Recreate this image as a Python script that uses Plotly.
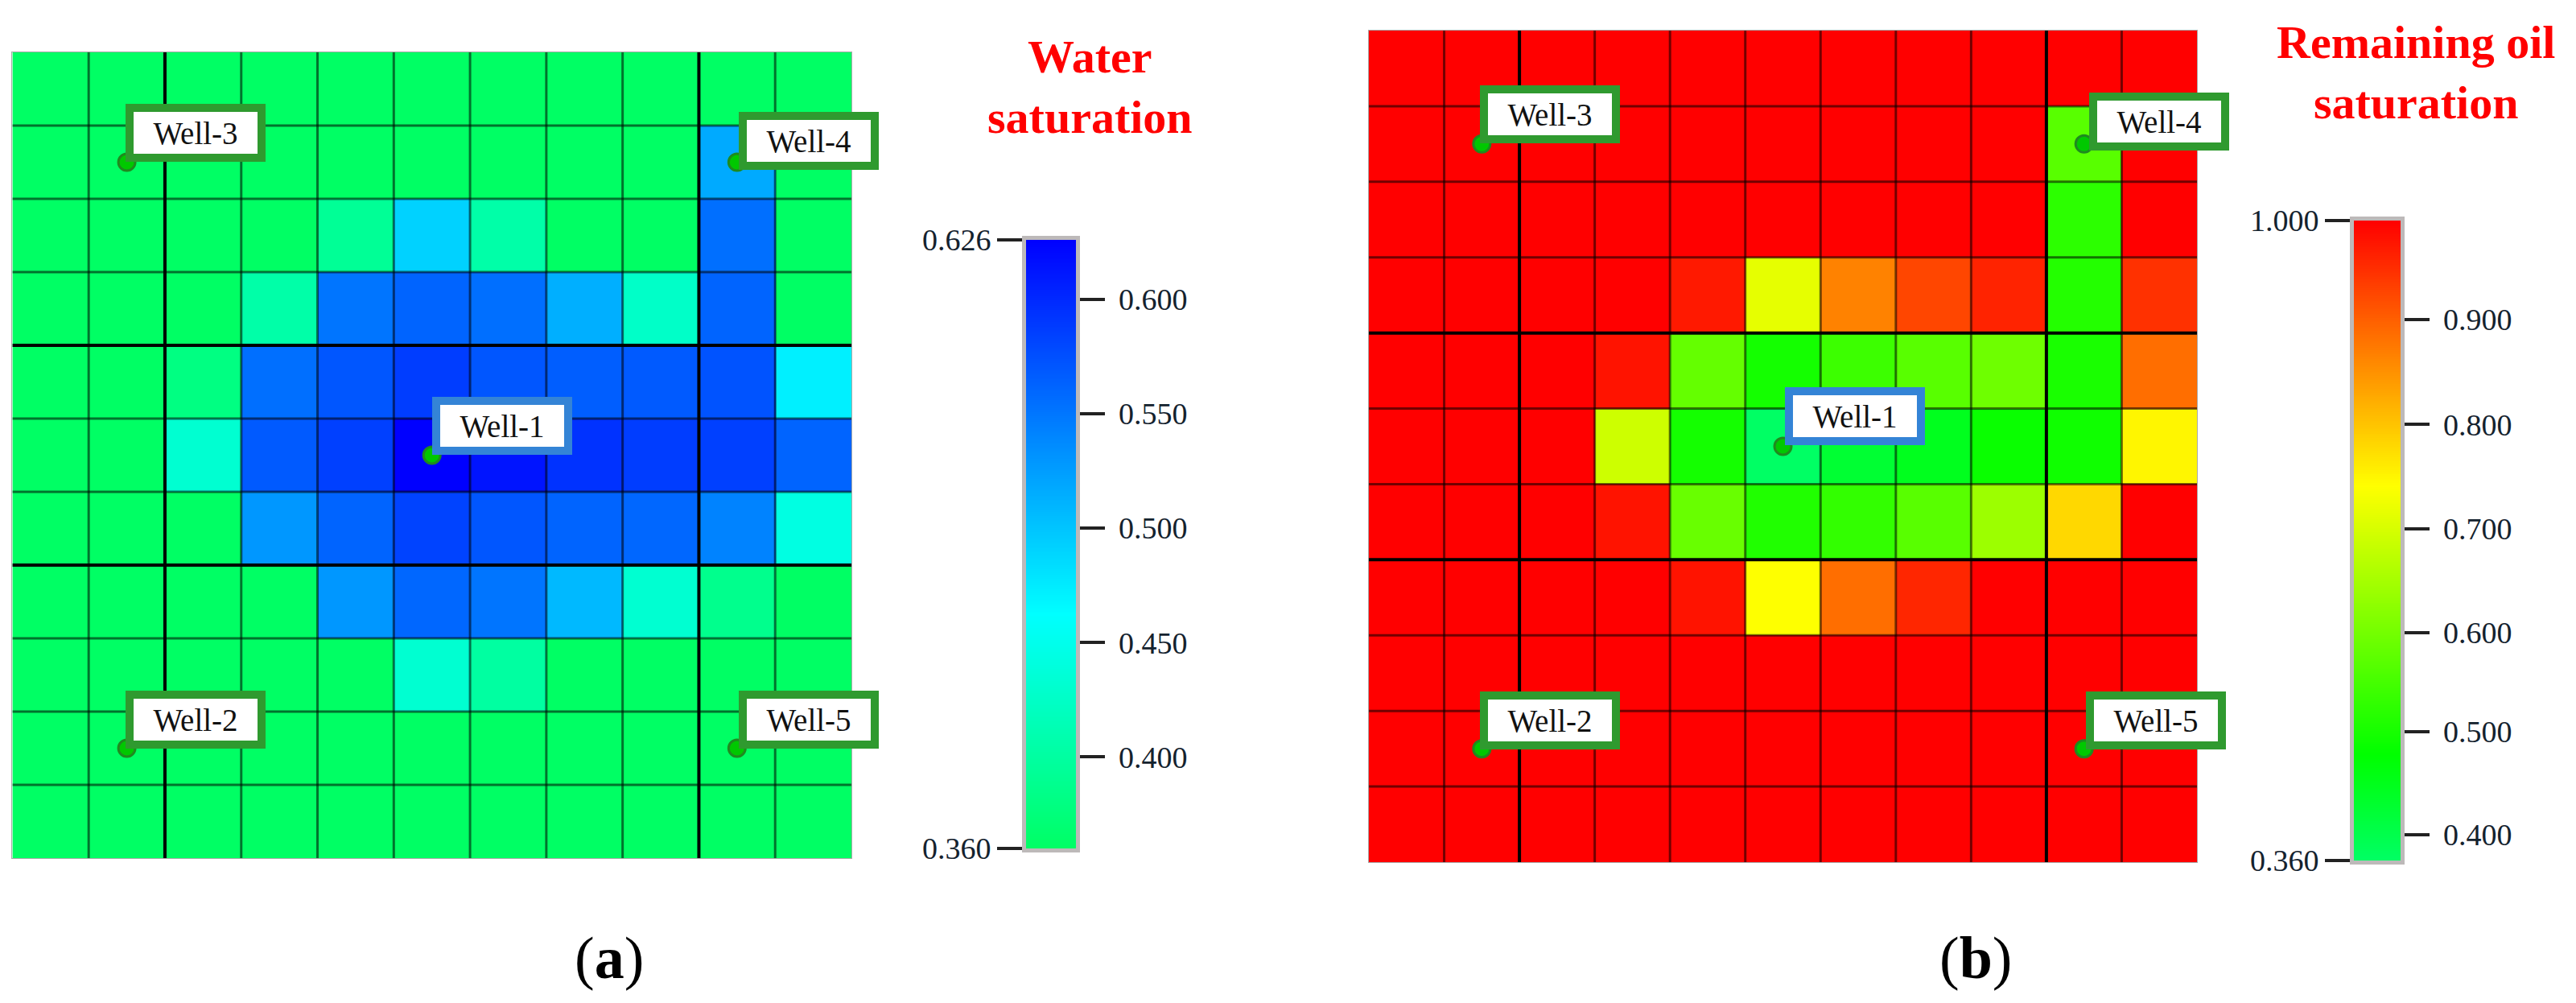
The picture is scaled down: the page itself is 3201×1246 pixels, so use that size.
import numpy as np
import plotly.graph_objects as go

W, H = 3201, 1246
PAGE_PAD = 8  # body margin of the html page

# saturation grids, top row first
water_sat = [
    [.36, .36, .36, .36, .36, .36, .36, .36, .36, .36, .36],
    [.36, .36, .36, .36, .36, .36, .36, .36, .36, .517, .36],
    [.36, .36, .36, .36, .393, .491, .405, .36, .36, .555, .36],
    [.36, .36, .36, .405, .551, .562, .555, .514, .426, .562, .36],
    [.36, .36, .38, .555, .571, .587, .571, .566, .568, .573, .472],
    [.36, .36, .432, .568, .585, .626, .613, .594, .587, .585, .562],
    [.36, .36, .36, .529, .562, .583, .571, .562, .56, .542, .443],
    [.36, .36, .36, .36, .529, .56, .551, .507, .432, .387, .36],
    [.36, .36, .36, .36, .36, .432, .40, .36, .36, .36, .36],
    [.36, .36, .36, .36, .36, .36, .36, .36, .36, .36, .36],
    [.36, .36, .36, .36, .36, .36, .36, .36, .36, .36, .36],
]
oil_sat = [
    [1, 1, 1, 1, 1, 1, 1, 1, 1, 1, 1],
    [1, 1, 1, 1, 1, 1, 1, 1, 1, .57, 1],
    [1, 1, 1, 1, 1, 1, 1, 1, 1, .523, 1],
    [1, 1, 1, 1, .974, .715, .865, .926, .963, .514, .948],
    [1, 1, 1, .98, .583, .498, .54, .57, .593, .503, .885],
    [1, 1, 1, .69, .498, .36, .425, .447, .487, .493, .75],
    [1, 1, 1, .98, .587, .51, .53, .57, .64, .78, 1],
    [1, 1, 1, 1, .98, .74, .885, .96, 1, 1, 1],
    [1, 1, 1, 1, 1, 1, 1, 1, 1, 1, 1],
    [1, 1, 1, 1, 1, 1, 1, 1, 1, 1, 1],
    [1, 1, 1, 1, 1, 1, 1, 1, 1, 1, 1],
]

water_ticks = [0.4, 0.45, 0.5, 0.55, 0.6]
water_ends = [0.36, 0.626]
oil_ticks = [0.4, 0.5, 0.6, 0.7, 0.8, 0.9]
oil_ends = [0.36, 1.0]
# the oil bar in the source is not quite linear, this is where its labels sit
oil_label_vals = [0.36, 0.4, 0.5, 0.6, 0.7, 0.8, 0.9, 1.0]
oil_label_pos = [0.36, 0.386, 0.489, 0.588, 0.692, 0.796, 0.901, 1.0]

wells = ["Well-1", "Well-2", "Well-3", "Well-4", "Well-5"]
well_col = [5.5, 1.5, 1.5, 9.5, 9.5]
well_row = [5.5, 9.5, 1.5, 1.5, 9.5]
well_border = ["#3484d6", "#2f9a2f", "#2f9a2f", "#2f9a2f", "#2f9a2f"]

water_scale = [[0, "rgb(0,255,100)"], [0.385, "rgb(0,255,255)"], [1, "rgb(0,0,255)"]]
oil_scale = [[0, "rgb(0,255,100)"], [0.165, "rgb(0,255,0)"], [0.585, "rgb(255,255,0)"], [1, "rgb(255,0,0)"]]

SERIF = "Liberation Serif"
TICK_FONT = dict(family=SERIF, size=38, color="#14222e")
n = 11


def px_x(p):
    return (p - PAGE_PAD) / W


def px_y(p):
    return 1 - (p - PAGE_PAD) / H


fig = go.Figure()

panels = [
    dict(z=water_sat, scale=water_scale, zmin=0.36, zmax=0.626, s=""),
    dict(z=np.interp(oil_sat, oil_label_vals, oil_label_pos), scale=oil_scale, zmin=0.36, zmax=1.0, s="2"),
]

for p in panels:
    fig.add_trace(go.Heatmap(
        z=p["z"], x=np.arange(n) + 0.5, y=np.arange(n) + 0.5,
        colorscale=p["scale"], zmin=p["zmin"], zmax=p["zmax"], showscale=False,
        xaxis="x" + p["s"], yaxis="y" + p["s"], hoverinfo="skip",
    ))
    # cell lines, every so often the source has a heavier one
    for idx, col, wid in [([1, 3, 4, 5, 6, 7, 8, 10], "rgba(0,0,0,0.55)", 3), ([2, 9], "#000000", 4)]:
        xs, ys = [], []
        for i in idx:
            xs += [i, i, None]
            ys += [0, n, None]
        fig.add_trace(go.Scatter(x=xs, y=ys, mode="lines", line=dict(color=col, width=wid),
                                 xaxis="x" + p["s"], yaxis="y" + p["s"], showlegend=False, hoverinfo="skip"))
    for idx, col, wid in [([1, 2, 3, 5, 6, 8, 9, 10], "rgba(0,0,0,0.55)", 3), ([4, 7], "#000000", 4)]:
        xs, ys = [], []
        for i in idx:
            xs += [0, n, None]
            ys += [i, i, None]
        fig.add_trace(go.Scatter(x=xs, y=ys, mode="lines", line=dict(color=col, width=wid),
                                 xaxis="x" + p["s"], yaxis="y" + p["s"], showlegend=False, hoverinfo="skip"))
    fig.add_trace(go.Scatter(x=well_col, y=well_row, mode="markers",
                             marker=dict(size=21, color="#00c800", line=dict(color="#1f8a1f", width=3)),
                             xaxis="x" + p["s"], yaxis="y" + p["s"], showlegend=False, hoverinfo="skip"))

# colour bars as thin heatmaps, each with a tick axis on both sides
for ends, scale, xa, ya, yb in [(water_ends, water_scale, "x3", "y3", "y5"), (oil_ends, oil_scale, "x4", "y4", "y6")]:
    levels = np.linspace(ends[0], ends[1], 300)
    fig.add_trace(go.Heatmap(z=[[v] for v in levels], x=[0], y=levels, colorscale=scale,
                             zmin=ends[0], zmax=ends[1], showscale=False, xaxis=xa, yaxis=ya, hoverinfo="skip"))
    fig.add_trace(go.Scatter(x=[None], y=[None], xaxis=xa, yaxis=yb, showlegend=False))

axis_style = dict(range=[0, n], showgrid=False, zeroline=False, showticklabels=False, ticks="",
                  showline=True, linecolor="#a9a9a9", linewidth=1, mirror=True)
bar_x = dict(range=[-0.5, 0.5], showticklabels=False, ticks="", showgrid=False, zeroline=False,
             showline=True, linecolor="#bdb9b9", linewidth=5, mirror=True)
bar_y = dict(showgrid=False, zeroline=False, tickmode="array", ticks="outside", ticklen=31, tickwidth=4,
             tickcolor="#222222", tickfont=TICK_FONT, showline=True, linecolor="#bdb9b9", linewidth=5)

oil_tick_pos = list(np.interp(oil_ticks, oil_label_vals, oil_label_pos))

fig.update_layout(
    template="none",
    width=W, height=H, margin=dict(l=0, r=0, t=0, b=0),
    paper_bgcolor="white", plot_bgcolor="white", showlegend=False,
    xaxis=dict(domain=[px_x(15.4), px_x(1058)], anchor="y", **axis_style),
    yaxis=dict(domain=[px_y(1066), px_y(65)], anchor="x", autorange=False, **{**axis_style, "range": [n, 0]}),
    xaxis2=dict(domain=[px_x(1701), px_x(2730)], anchor="y2", **axis_style),
    yaxis2=dict(domain=[px_y(1071), px_y(38)], anchor="x2", autorange=False, **{**axis_style, "range": [n, 0]}),
    xaxis3=dict(domain=[px_x(1275), px_x(1337)], anchor="y3", **bar_x),
    yaxis3=dict(domain=[px_y(1054), px_y(298)], range=water_ends, side="left", anchor="x3",
                tickvals=water_ends, ticktext=["%.3f" % v for v in water_ends], **bar_y),
    yaxis5=dict(domain=[px_y(1054), px_y(298)], range=water_ends, side="right", anchor="x3", overlaying="y3",
                tickvals=water_ticks, ticktext=[" %.3f" % v for v in water_ticks], **bar_y),
    xaxis4=dict(domain=[px_x(2925), px_x(2983)], anchor="y4", **bar_x),
    yaxis4=dict(domain=[px_y(1069), px_y(274)], range=oil_ends, side="left", anchor="x4",
                tickvals=oil_ends, ticktext=["%.3f" % v for v in oil_ends], **bar_y),
    yaxis6=dict(domain=[px_y(1069), px_y(274)], range=oil_ends, side="right", anchor="x4", overlaying="y4",
                tickvals=oil_tick_pos, ticktext=[" %.3f" % v for v in oil_ticks], **bar_y),
)

# well labels: offset from the well in pixels, first panel then second
shift_a = [(0, 1), (-2, 0), (-2, 1), (2, -9), (2, 0)]
shift_b = [(2, 2), (-2, -1), (-2, 1), (6, -8), (2, -1)]
for s, shifts in [("", shift_a), ("2", shift_b)]:
    for name, cx, cy, bc, sh in zip(wells, well_col, well_row, well_border, shifts):
        fig.add_annotation(x=cx, y=cy, xref="x" + s, yref="y" + s, text=name, showarrow=False,
                           xanchor="left", yanchor="bottom", xshift=sh[0], yshift=sh[1],
                           width=154, height=52, borderpad=0, borderwidth=10, bordercolor=bc,
                           bgcolor="white", font=dict(family=SERIF, size=39, color="#111111"))

titles = [("Water<br>saturation", 1354, 108), ("Remaining oil<br>saturation", 3002, 90)]
for text, tx, ty in titles:
    fig.add_annotation(x=px_x(tx), y=px_y(ty), xref="paper", yref="paper", text="<b>%s</b>" % text,
                       showarrow=False, xanchor="center", yanchor="middle",
                       font=dict(family=SERIF, size=58, color="#ff0000"))

for text, tx in [("(<b>a</b>)", 757), ("(<b>b</b>)", 2455)]:
    fig.add_annotation(x=px_x(tx), y=px_y(1190), xref="paper", yref="paper", text=text, showarrow=False,
                       xanchor="center", yanchor="middle",
                       font=dict(family=SERIF, size=74, color="#000000"))

fig.write_html("out.html")
